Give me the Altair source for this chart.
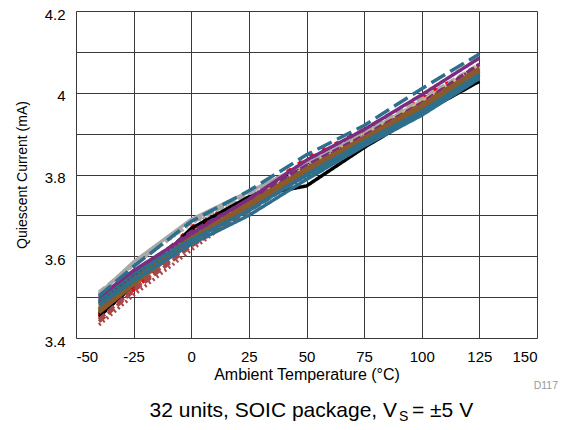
import altair as alt
import pandas as pd

# Temperature points (°C)
temps = [-40, -25, 0, 25, 50, 75, 100, 125]

# Quiescent current (mA) for 32 units
u01 = [3.452, 3.530, 3.668, 3.745, 3.772, 3.866, 3.950, 4.028]
u02 = [3.462, 3.532, 3.672, 3.748, 3.835, 3.900, 3.985, 4.060]
u03 = [3.512, 3.580, 3.682, 3.752, 3.830, 3.905, 3.985, 4.070]
u04 = [3.495, 3.560, 3.640, 3.712, 3.800, 3.880, 3.955, 4.045]
u05 = [3.500, 3.565, 3.655, 3.740, 3.835, 3.910, 3.995, 4.085]
u06 = [3.490, 3.548, 3.642, 3.720, 3.798, 3.875, 3.952, 4.040]
u07 = [3.470, 3.540, 3.645, 3.728, 3.815, 3.890, 3.970, 4.060]
u08 = [3.478, 3.548, 3.650, 3.730, 3.818, 3.896, 3.978, 4.068]
u09 = [3.432, 3.505, 3.615, 3.720, 3.810, 3.885, 3.960, 4.050]
u10 = [3.458, 3.540, 3.662, 3.742, 3.820, 3.895, 3.975, 4.055]
u11 = [3.448, 3.518, 3.640, 3.738, 3.840, 3.910, 3.990, 4.065]
u12 = [3.508, 3.586, 3.690, 3.758, 3.825, 3.900, 3.980, 4.062]
u13 = [3.503, 3.575, 3.685, 3.760, 3.848, 3.920, 4.010, 4.095]
u14 = [3.497, 3.558, 3.660, 3.738, 3.822, 3.895, 3.975, 4.070]
u15 = [3.486, 3.545, 3.640, 3.712, 3.800, 3.878, 3.955, 4.045]
u16 = [3.465, 3.538, 3.650, 3.733, 3.812, 3.890, 3.972, 4.058]
u17 = [3.474, 3.545, 3.655, 3.735, 3.818, 3.890, 3.972, 4.062]
u18 = [3.440, 3.515, 3.625, 3.710, 3.800, 3.878, 3.958, 4.050]
u19 = [3.468, 3.535, 3.642, 3.725, 3.808, 3.885, 3.965, 4.055]
u20 = [3.480, 3.540, 3.630, 3.700, 3.788, 3.870, 3.945, 4.035]
u21 = [3.483, 3.550, 3.645, 3.725, 3.805, 3.882, 3.960, 4.048]
u22 = [3.472, 3.542, 3.648, 3.730, 3.812, 3.888, 3.968, 4.058]
u23 = [3.476, 3.548, 3.652, 3.732, 3.815, 3.892, 3.975, 4.065]
u24 = [3.505, 3.578, 3.680, 3.748, 3.820, 3.895, 3.975, 4.060]
u25 = [3.445, 3.520, 3.630, 3.715, 3.805, 3.880, 3.962, 4.052]
u26 = [3.492, 3.555, 3.652, 3.732, 3.818, 3.893, 3.973, 4.068]
u27 = [3.466, 3.535, 3.640, 3.722, 3.806, 3.884, 3.964, 4.054]
u28 = [3.462, 3.530, 3.638, 3.720, 3.803, 3.882, 3.962, 4.052]
u29 = [3.488, 3.552, 3.648, 3.728, 3.808, 3.884, 3.962, 4.050]
u30 = [3.485, 3.548, 3.638, 3.715, 3.795, 3.872, 3.950, 4.040]
u31 = [3.455, 3.528, 3.660, 3.745, 3.838, 3.905, 3.988, 4.060]
u32 = [3.470, 3.540, 3.648, 3.728, 3.812, 3.890, 3.970, 4.062]

# drawing order: first drawn at the bottom
units = [u02, u11, u31, u03, u12, u24, u10, u01, u09, u18, u25, u23, u17, u08, u32, u29,
         u15, u21, u06, u26, u14, u27, u22, u16, u19, u28, u07, u30, u20, u04, u05, u13]

unit_colors = ["#FF0000", "#FF0000", "#FF0000", "#A8A8A8", "#A8A8A8", "#A8A8A8", "#000000", "#000000",
               "#A8474A", "#A8474A", "#A8474A", "#C9B87A", "#C9B87A", "#C9B87A", "#C9B87A", "#2F7A5A",
               "#2F7A5A", "#2F7A5A", "#2F7A5A", "#7B2C7F", "#7B2C7F", "#6B6B2B", "#8B5A2B", "#8B5A2B",
               "#8B5A2B", "#8B5A2B", "#8B5A2B", "#2E6F8E", "#2E6F8E", "#2E6F8E", "#7B2C7F", "#2E6F8E"]

solid = [1, 0]
dash = [8, 4]
longdash = [16, 6]
dot = [2, 3]
sparse = [4, 10]
unit_dashes = [sparse, sparse, sparse, dash, solid, dot, dash, solid,
               dot, dash, dash, dot, dash, solid, solid, dot,
               dash, solid, solid, dot, dash, solid, dot, dash,
               solid, solid, solid, dot, solid, solid, solid, longdash]

names = [f"U{i+1:02d}" for i in range(len(units))]

rows = []
for name, vals in zip(names, units):
    for t, v in zip(temps, vals):
        rows.append({"unit": name, "temp": t, "iq": v})
df = pd.DataFrame(rows)

x_ticks = [-50, -25, 0, 25, 50, 75, 100, 125, 150]
y_ticks = [3.4, 3.5, 3.6, 3.7, 3.8, 3.9, 4.0, 4.1, 4.2]

FONT = "Liberation Sans"

lines = alt.Chart(df).mark_line(strokeWidth=3.5, clip=True).encode(
    x=alt.X("temp:Q", scale=alt.Scale(domain=[-50, 150], nice=False),
            axis=alt.Axis(values=x_ticks, title="Ambient Temperature (°C)", labelFontSize=15,
                          titleFontSize=16, labelPadding=11, titlePadding=2, grid=True,
                          labelExpr="datum.value < 0 ? '-' + format(-datum.value, 'd') : format(datum.value, 'd')",
                          gridColor="#3a3a3a", gridWidth=1, domain=False, ticks=False,
                          labelColor="black", titleColor="black", titleFontWeight="normal",
                          labelFont=FONT, titleFont=FONT)),
    y=alt.Y("iq:Q", scale=alt.Scale(domain=[3.4, 4.2], nice=False, zero=False),
            axis=alt.Axis(values=y_ticks, title="Quiescent Current (mA)", labelFontSize=15,
                          titleFontSize=14, labelPadding=11, titlePadding=15, grid=True,
                          labelOffset=3,
                          gridColor="#3a3a3a", gridWidth=1, domain=False, ticks=False,
                          labelExpr="round(datum.value*10) % 2 == 0 ? format(datum.value, '~g') : ''",
                          labelColor="black", titleColor="black", titleFontWeight="normal",
                          labelFont=FONT, titleFont=FONT)),
    color=alt.Color("unit:N", scale=alt.Scale(domain=names, range=unit_colors), legend=None),
    strokeDash=alt.StrokeDash("unit:N", scale=alt.Scale(domain=names, range=unit_dashes), legend=None),
    detail="unit:N",
)

cap1 = alt.Chart().mark_text(text="32 units, SOIC package, V", font=FONT, fontSize=21, align="right",
                             baseline="alphabetic", color="black").encode(
    x=alt.value(321), y=alt.value(406))
cap2 = alt.Chart().mark_text(text="S", font=FONT, fontSize=14, align="left",
                             baseline="alphabetic", color="black").encode(
    x=alt.value(323), y=alt.value(410))
cap3 = alt.Chart().mark_text(text="= ±5 V", font=FONT, fontSize=21, align="left",
                             baseline="alphabetic", color="black").encode(
    x=alt.value(336), y=alt.value(406))
code = alt.Chart().mark_text(text="D117", font=FONT, fontSize=10.5, align="right",
                             baseline="middle", color="#999999").encode(
    x=alt.value(482), y=alt.value(375))

chart = alt.layer(lines, cap1, cap2, cap3, code).properties(
    width=461, height=327,
    autosize=alt.AutoSizeParams(type="none"),
    padding={"left": 68, "top": 3, "right": 23, "bottom": 84},
).configure_view(stroke="black", strokeWidth=3).configure(background="white")

chart.save("out.html", embed_options={"renderer": "svg", "actions": False})
